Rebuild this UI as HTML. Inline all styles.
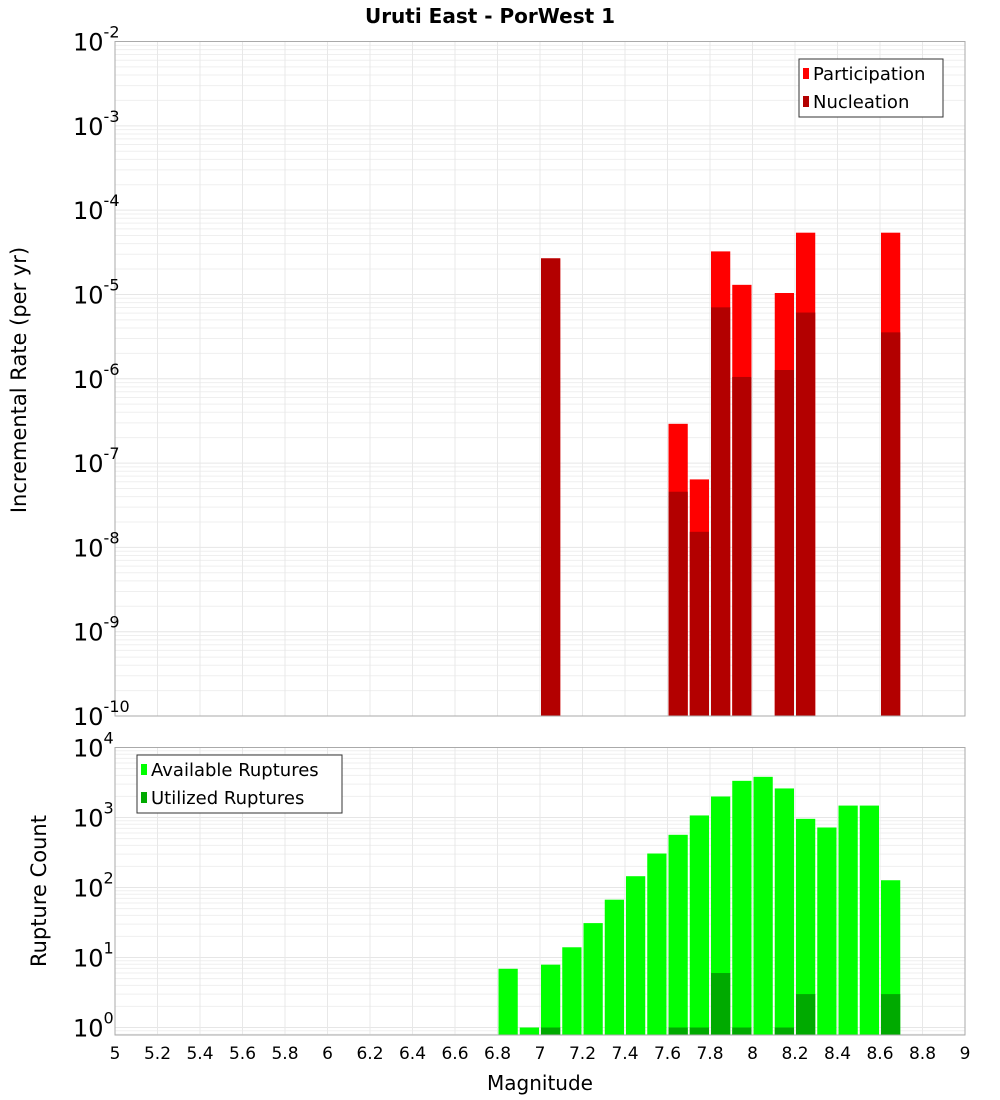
<!DOCTYPE html>
<html><head><meta charset="utf-8"><style>
body{margin:0;background:#fff;font-family:"DejaVu Sans","Liberation Sans",sans-serif}
svg{display:block}
</style></head><body>
<svg id="c" width="1000" height="1100" xmlns="http://www.w3.org/2000/svg"></svg>
<script>
const mags=[6.8,6.9,7.0,7.1,7.2,7.3,7.4,7.5,7.6,7.7,7.8,7.9,8.0,8.1,8.2,8.3,8.4,8.5,8.6];
const available=[6.9,1,7.9,14,31,67,145,306,566,1070,1995,3340,3810,2600,957,720,1480,1480,127];
const utilized=[0,0,1,0,0,0,0,0,1,1,6,1,0,1,3,0,0,0,3];
const rateMags=[7.0,7.6,7.7,7.8,7.9,8.1,8.2,8.6];
const participation=[2.68e-5,2.92e-7,6.4e-8,3.24e-5,1.30e-5,1.04e-5,5.4e-5,5.4e-5];
const nucleation=[2.68e-5,4.57e-8,1.53e-8,7.03e-6,1.05e-6,1.27e-6,6.1e-6,3.55e-6];
const xTicks=[5,5.2,5.4,5.6,5.8,6,6.2,6.4,6.6,6.8,7,7.2,7.4,7.6,7.8,8,8.2,8.4,8.6,8.8,9];
const xTickLabels=["5","5.2","5.4","5.6","5.8","6","6.2","6.4","6.6","6.8","7","7.2","7.4","7.6","7.8","8","8.2","8.4","8.6","8.8","9"];
const topExps=[-2,-3,-4,-5,-6,-7,-8,-9,-10];
const botExps=[4,3,2,1,0];

const S="http://www.w3.org/2000/svg",svg=document.getElementById('c');
function el(t,a,p){const e=document.createElementNS(S,t);for(const k in a)e.setAttribute(k,a[k]);(p||svg).appendChild(e);return e;}
const X0=115,X1=965;
const x=m=>X0+(m-5)/4*(X1-X0);
const T0=41.5,T1=716;
const yT=v=>T0+(-2-Math.log10(v))/8*(T1-T0);
const B0=747.5,B1=1035,BD=70;
const yB=v=>B0+(4-Math.log10(v))*BD;

function grid(top,bot,yf,hiExp,loExp){
  const g=el('g',{});
  
  for(let e=loExp-1;e<=hiExp;e++){for(let k=1;k<10;k++){const v=k*Math.pow(10,e);const y=yf(v);if(y<top||y>bot)continue;
    el('line',{x1:X0,x2:X1,y1:y,y2:y,stroke:k==1?'#e6e6e6':'#efefef','stroke-width':1},g);}}
  xTicks.forEach(t=>el('line',{x1:x(t),x2:x(t),y1:top,y2:bot,stroke:'#e8e8e8'},g));
}
grid(T0,T1,yT,-2,-10);
grid(B0,B1,yB,4,-1);

// top bars
rateMags.forEach((m,i)=>{
  const r=el('rect',{x:x(m)+1,y:yT(participation[i]),width:x(m+0.1)-x(m)-2,height:T1-yT(participation[i]),fill:'#ff0000'});
  
  const n=el('rect',{x:x(m)+1,y:yT(nucleation[i]),width:x(m+0.1)-x(m)-2,height:T1-yT(nucleation[i]),fill:'#b30000'});
  
});
// bottom bars
mags.forEach((m,i)=>{
  const a=el('rect',{x:x(m)+1,y:yB(available[i]),width:x(m+0.1)-x(m)-2,height:B1-yB(available[i]),fill:'#00ff00'});
  
  if(utilized[i]>0){const u=el('rect',{x:x(m)+1,y:yB(utilized[i]),width:x(m+0.1)-x(m)-2,height:B1-yB(utilized[i]),fill:'#00aa00'});
  }
});
// frames
el('rect',{x:X0,y:T0,width:X1-X0,height:T1-T0,fill:'none',stroke:'#aaa'});
el('rect',{x:X0,y:B0,width:X1-X0,height:B1-B0,fill:'none',stroke:'#aaa'});

function ylab(exp,y,name){
  const t=el('text',{x:104,y:y+9,'text-anchor':'end','font-size':24,fill:'#000'});
  
  const a=el('tspan',{},t);a.textContent='10';
  const b=el('tspan',{dy:-13,'font-size':16},t);b.textContent=String(exp);
  t.setAttribute('text-anchor','start');t.setAttribute('x',73);
}
topExps.forEach(e=>ylab(e,yT(Math.pow(10,e)),'top-y-tick-label'));
botExps.forEach(e=>ylab(e,yB(Math.pow(10,e)),'bottom-y-tick-label'));
xTicks.forEach((t,i)=>{const tx=el('text',{x:x(t),y:1059,'text-anchor':'middle','font-size':17});tx.textContent=xTickLabels[i];
  });

let t=el('text',{x:490,y:23,'text-anchor':'middle','font-size':20,'font-weight':'bold'});t.textContent='Uruti East - PorWest 1';
t=el('text',{x:540,y:1090,'text-anchor':'middle','font-size':20});t.textContent='Magnitude';
t=el('text',{x:0,y:0,'text-anchor':'middle','font-size':21,transform:'translate(26,380) rotate(-90)'});t.textContent='Incremental Rate (per yr)';
t=el('text',{x:0,y:0,'text-anchor':'middle','font-size':21,transform:'translate(46,891) rotate(-90)'});t.textContent='Rupture Count';

function legend(x0,y0,w,h,items,name){
  const g=el('g',{});
  el('rect',{x:x0,y:y0,width:w,height:h,fill:'#fff',stroke:'#333'},g);
  items.forEach((it,i)=>{const cy=y0+14+i*28;
    el('rect',{x:x0+4,y:cy-5,width:6,height:11,fill:it[1]},g);
    const tt=el('text',{x:x0+14,y:cy+7,'font-size':18},g);tt.textContent=it[0];
    });
}
legend(799,59,144,58,[['Participation','#ff0000'],['Nucleation','#b30000']],'top-legend');
legend(137,755,205,58,[['Available Ruptures','#00ff00'],['Utilized Ruptures','#00aa00']],'bottom-legend');
</script>
</body></html>
